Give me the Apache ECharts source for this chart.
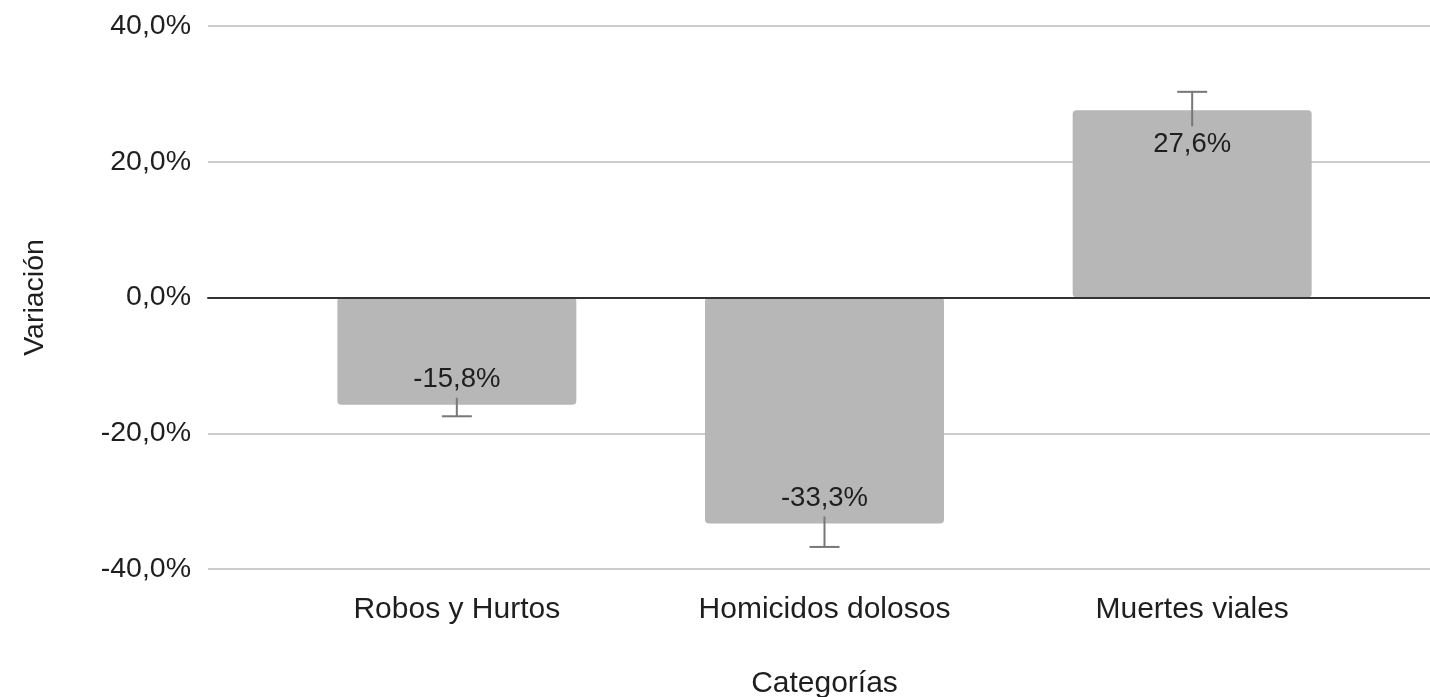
<!DOCTYPE html>
<html>
<head>
<meta charset="utf-8">
<script src="https://cdn.jsdelivr.net/npm/echarts@6/dist/echarts.min.js"></script>
<style>
html,body{margin:0;padding:0;background:#fff;}
#chart{width:1430px;height:697px;}
</style>
</head>
<body>
<div id="chart"></div>
<script>
var categories = ['Robos y Hurtos', 'Homicidos dolosos', 'Muertes viales'];
var values = [-15.8, -33.3, 27.6];
var errors = [1.7, 3.45, 2.7];
var yTicks = [-40, -20, 0, 20, 40];

function fmt(v) {
  return v.toFixed(1).replace('.', ',') + '%';
}

var FONT = '"Liberation Sans", Arial, sans-serif';
var chart = echarts.init(document.getElementById('chart'));

var option = {
  animation: false,
  backgroundColor: '#ffffff',
  textStyle: { fontFamily: FONT },
  grid: [
    { left: 208, right: 0, top: 26, bottom: 128, containLabel: false, outerBoundsMode: 'none' },
    { left: 273, right: 54, top: 26, bottom: 128, containLabel: false, outerBoundsMode: 'none' }
  ],
  xAxis: [
    {
      gridIndex: 0, type: 'category', data: categories, z: 10,
      axisLine: { show: true, onZero: true, lineStyle: { color: '#333333', width: 2 } },
      axisTick: { show: false }, axisLabel: { show: false }, splitLine: { show: false }
    },
    {
      gridIndex: 1, type: 'category', data: categories,
      axisLine: { show: false, onZero: false }, axisTick: { show: false },
      axisLabel: { color: '#1e1e1e', fontSize: 30, fontFamily: FONT, margin: 26 },
      name: 'Categorías', nameLocation: 'middle', nameGap: 100,
      nameTextStyle: { color: '#1e1e1e', fontSize: 30, fontFamily: FONT }
    }
  ],
  yAxis: [
    {
      gridIndex: 0, type: 'value', min: yTicks[0], max: yTicks[yTicks.length - 1], interval: 20,
      axisLine: { show: false }, axisTick: { show: false },
      axisLabel: { color: '#1e1e1e', fontSize: 28.5, fontFamily: FONT, margin: 17, formatter: function (v) { return fmt(v); } },
      splitLine: { lineStyle: { color: '#cccccc', width: 2 } },
      name: 'Variación', nameLocation: 'middle', nameGap: 158,
      nameTextStyle: { color: '#1e1e1e', fontSize: 28.5, fontFamily: FONT }
    },
    {
      gridIndex: 1, type: 'value', min: yTicks[0], max: yTicks[yTicks.length - 1], interval: 20,
      show: false
    }
  ],
  series: [
    {
      type: 'bar', xAxisIndex: 1, yAxisIndex: 1, data: values, barWidth: 239, z: 2,
      itemStyle: { color: '#b7b7b7', borderRadius: 4 }
    },
    {
      type: 'custom', xAxisIndex: 1, yAxisIndex: 1, z: 3,
      data: values.map(function (v, i) { return [i, v, errors[i]]; }),
      renderItem: function (params, api) {
        var i = api.value(0), v = api.value(1), e = api.value(2);
        var top = api.coord([i, v + e]);
        var bot = api.coord([i, v - e]);
        var hw = 15;
        var st = { stroke: '#777777', lineWidth: 2 };
        return {
          type: 'group',
          children: [
            { type: 'line', shape: { x1: top[0], y1: top[1], x2: bot[0], y2: bot[1] }, style: st },
            { type: 'line', shape: { x1: top[0] - hw, y1: top[1], x2: top[0] + hw, y2: top[1] }, style: st },
            { type: 'line', shape: { x1: bot[0] - hw, y1: bot[1], x2: bot[0] + hw, y2: bot[1] }, style: st }
          ]
        };
      }
    },
    {
      type: 'custom', xAxisIndex: 1, yAxisIndex: 1, z: 4,
      data: values.map(function (v, i) { return [i, v]; }),
      renderItem: function (params, api) {
        var i = api.value(0), v = api.value(1);
        var p = api.coord([i, v]);
        var y = v >= 0 ? p[1] + 34 : p[1] - 25;
        return {
          type: 'text',
          style: {
            x: p[0], y: y, text: fmt(v), align: 'center', verticalAlign: 'middle',
            fill: '#1e1e1e', font: '27.5px ' + FONT,
            backgroundColor: '#b7b7b7', padding: [4, 4]
          }
        };
      }
    }
  ]
};
chart.setOption(option);
</script>
</body>
</html>
